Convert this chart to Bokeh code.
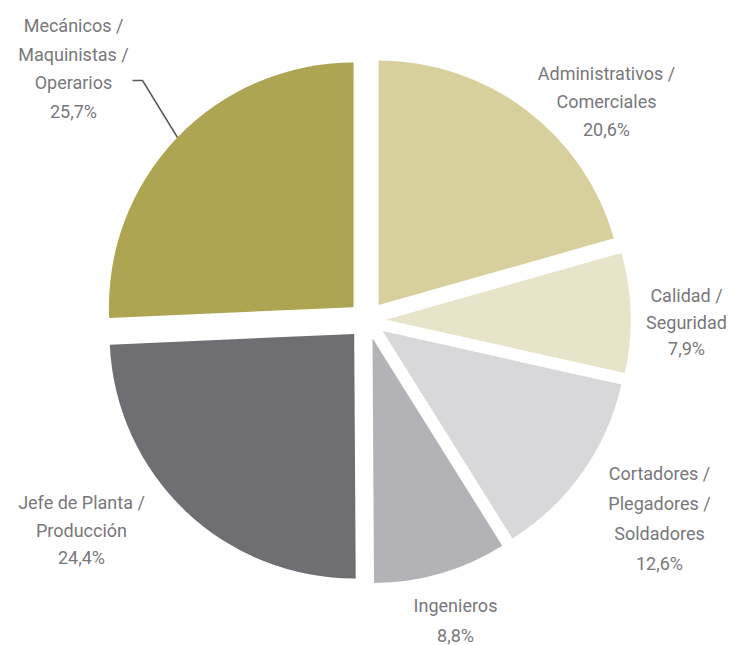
import math
from bokeh.plotting import figure
from bokeh.models import Range1d, ColumnDataSource
from bokeh.core.properties import value
from bokeh.embed import file_html
from bokeh.resources import INLINE

# ---- data ----
categories = ["Administrativos /\nComerciales", "Calidad /\nSeguridad",
              "Cortadores /\nPlegadores /\nSoldadores", "Ingenieros",
              "Jefe de Planta /\nProducción", "Mecánicos /\nMaquinistas /\nOperarios"]
shares = [20.6, 7.9, 12.6, 8.8, 24.4, 25.7]
colors = ["#d7d09c", "#e8e4ca", "#d8d8da", "#b3b2b6", "#6f6e73", "#aea552"]

# ---- layout (label anchors: x centre, first line y (screen), line spacing) ----
label_pos = [(606, 73, 28.0), (686, 295, 26.5), (659, 473, 30.0),
             (455, 605, 29.5), (81, 502, 27.5), (73, 25, 28.7)]

W, H = 736, 645
CX, CY = 366.7, H - 319.7
R = 244.6
EXPLODE = 18.9
TEXT_COLOR = "#78787b"
FONT = value("Roboto")

p = figure(width=W, height=H, output_backend="svg", toolbar_location=None,
           x_range=Range1d(0, W), y_range=Range1d(0, H),
           min_border=0)
p.axis.visible = False
p.grid.visible = False
p.outline_line_color = None
p.background_fill_color = "white"
p.border_fill_color = "white"

total = sum(shares)
xs, ys, sa, ea = [], [], [], []
cum = 0.0
for v in shares:
    t1 = cum / total * 360.0
    t2 = (cum + v) / total * 360.0
    mid = math.radians((t1 + t2) / 2)
    xs.append(CX + EXPLODE * math.sin(mid))
    ys.append(CY + EXPLODE * math.cos(mid))
    sa.append(math.radians(90 - t2))
    ea.append(math.radians(90 - t1))
    cum += v

src = ColumnDataSource(dict(x=xs, y=ys, start=sa, end=ea, color=colors))
p.wedge(x="x", y="y", radius=R, start_angle="start", end_angle="end",
        fill_color="color", line_color=None, source=src)

# leader line for Mecánicos
p.line(x=[132, 142, 177], y=[H - 80, H - 80, H - 137],
       line_color="#5a5a5d", line_width=1.5)

tx, ty, tt = [], [], []
for cat, v, (lx, ly, sp) in zip(categories, shares, label_pos):
    lines = cat.split("\n") + [f"{v:.1f}".replace(".", ",") + "%"]
    for i, ln in enumerate(lines):
        tx.append(lx)
        ty.append(H - (ly + i * sp))
        tt.append(ln)

p.text(x=tx, y=ty, text=tt, text_align="center", text_baseline="middle",
       text_font=FONT, text_font_size="18px", text_color=TEXT_COLOR)

open("out.html", "w").write(file_html(p, INLINE))
